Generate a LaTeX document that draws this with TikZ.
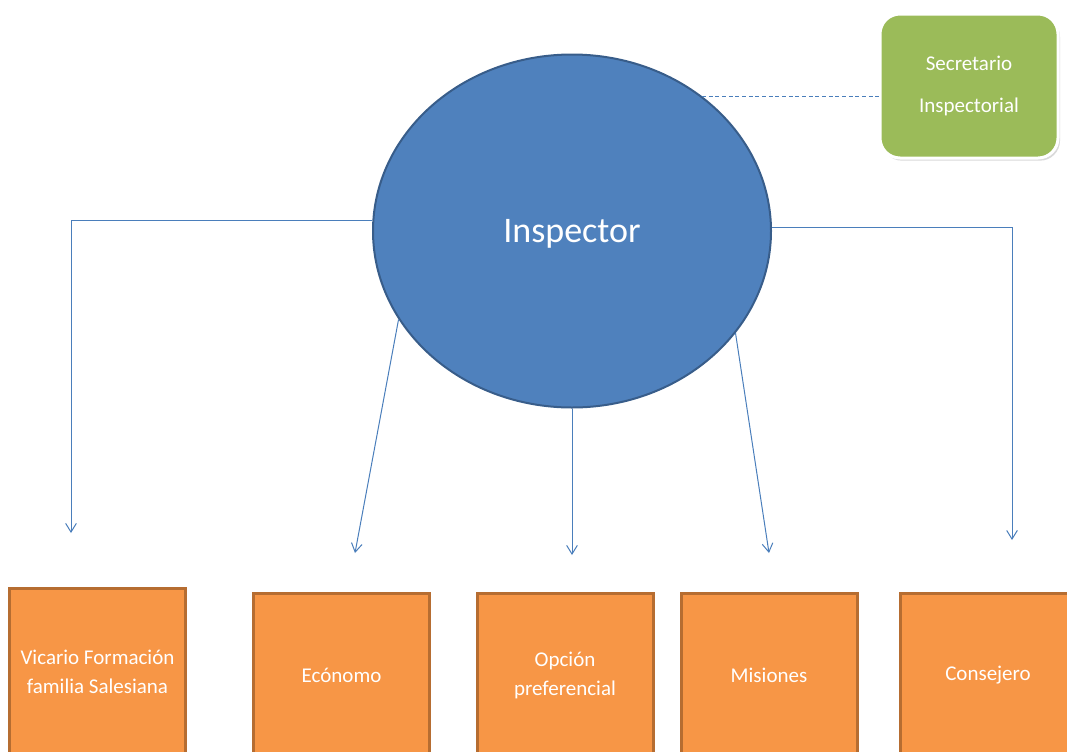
\documentclass[tikz,border=0pt]{standalone}
\usepackage{fontspec}
\setmainfont{Carlito}
\usetikzlibrary{shapes.geometric,arrows.meta,shadows}
\definecolor{ellfill}{HTML}{4F81BD}
\definecolor{elldraw}{HTML}{385D8A}
\definecolor{linkc}{HTML}{4A7EBB}
\definecolor{greenf}{HTML}{9BBB59}
\definecolor{orangef}{HTML}{F79646}
\definecolor{oranged}{HTML}{B66D31}
\begin{document}
\begin{tikzpicture}[x=0.75pt,y=-0.75pt,
  headnode/.style={ellipse,fill=ellfill,draw=elldraw,line width=1.5pt,inner sep=0pt,
    minimum width=298.5pt,minimum height=264.75pt,text=white,
    text height=21.9pt,text depth=5.4pt,
    font=\fontsize{27}{30}\selectfont},
  secbox/.style={rectangle,rounded corners=15pt,fill=greenf,draw=white,line width=2.25pt,
    minimum width=133.5pt,minimum height=108pt,inner sep=0pt,text=white,align=center,
    font=\fontsize{15.75}{32}\selectfont,
    drop shadow={shadow xshift=1.5pt,shadow yshift=-2pt,opacity=0.3}},
  unitbox/.style={rectangle,fill=orangef,draw=oranged,line width=2.25pt,
    minimum width=132pt,minimum height=123pt,inner sep=0pt,text=white,align=center,
    font=\fontsize{15.75}{21.75}\selectfont},
  conn/.style={draw=linkc,line width=0.75pt,-{Straight Barb[length=6.5pt,width=8pt]}},
  dashconn/.style={draw=linkc,line width=0.75pt,dash pattern=on 3pt off 2pt}
]
\useasboundingbox (0,0) rectangle (1067,751);

\node[headnode] (insp) at (572,231) {Inspector};
\node[secbox] (sec) at (969,86) {Secretario\\Inspectorial};

\node[unitbox,minimum height=126pt] (vic) at (97.5,672) {Vicario Formación\\familia Salesiana};
\node[unitbox] (eco) at (341.5,675) {Ecónomo};
\node[unitbox] (opc) at (565,675) {Opción\\preferencial};
\node[unitbox] (mis) at (769,675) {Misiones};
\node[unitbox] (con) at (988,675) {Consejero};

\coordinate (e1) at (71,533);
\coordinate (e2) at (355,553);
\coordinate (e3) at (572,555);
\coordinate (e4) at (769,553);
\coordinate (e5) at (1012,540);

\draw[dashconn] (insp.46) -- (insp.46 -| sec.west);
\draw[conn] (insp.177.5) -| (e1);
\draw[conn] (insp.207) -- (e2);
\draw[conn] (insp.south) -- (e3);
\draw[conn] (insp.328) -- (e4);
\draw[conn] (insp.1) -| (e5);
\end{tikzpicture}
\end{document}
